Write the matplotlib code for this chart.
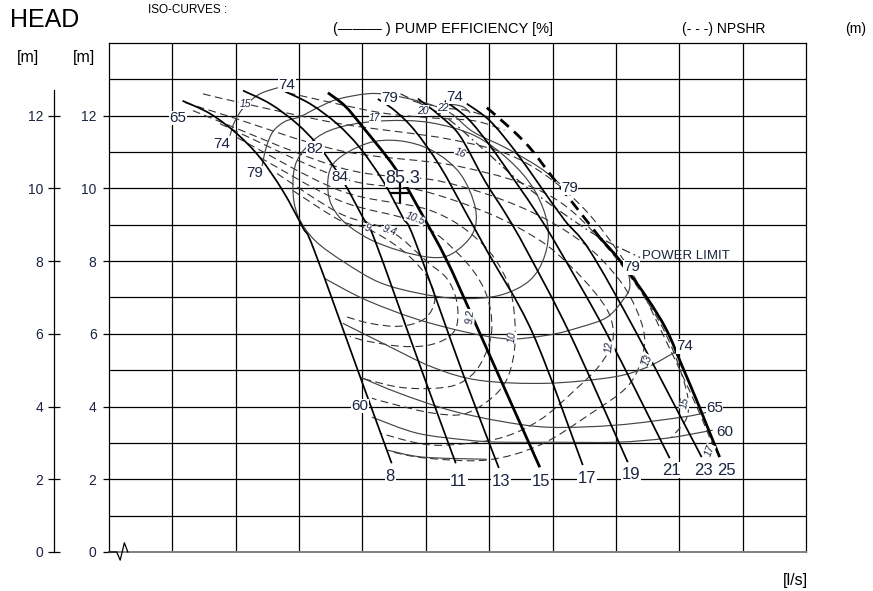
import matplotlib
matplotlib.use('Agg')
import matplotlib.pyplot as plt
from matplotlib.path import Path
from matplotlib.patches import PathPatch

plt.rcParams['font.family'] = ['Liberation Sans', 'DejaVu Sans']

NAVY = '#1b2440'

# blade angle curves: flow [l/s], head [m]
blade_labels = ['8', '11', '13', '15', '17', '19', '21', '23', '25']
blade_q = [
    [2080, 2300, 2510, 2690, 2870, 3030, 3120, 3500, 3730],
    [2557, 2770, 2983, 3164, 3345, 3503, 3598, 3976, 4236],
    [2872, 3085, 3298, 3479, 3661, 3818, 3913, 4292, 4576],
    [3227, 3361, 3495, 3755, 3953, 4165, 4370, 4899],
    [3621, 3755, 3913, 4110, 4307, 4481, 4844, 5238],
    [3937, 4110, 4268, 4465, 4639, 4796, 5135, 5593],
    [4150, 4331, 4505, 4702, 4899, 5057, 5427, 5924],
    [4323, 4505, 4702, 4899, 5096, 5293, 5664, 6176],
    [5372, 5530, 5743, 5900, 6019, 6137, 6239, 6318],
]
blade_h = [
    [12.41, 12.05, 11.50, 10.85, 9.94, 8.92, 8.29, 4.64, 2.44],
    [12.69, 12.33, 11.78, 11.12, 10.21, 9.20, 8.57, 4.91, 2.44],
    [12.69, 12.33, 11.78, 11.12, 10.21, 9.20, 8.57, 4.91, 2.31],
    [12.63, 12.27, 11.72, 10.57, 9.39, 8.02, 6.45, 2.33],
    [12.46, 12.14, 11.59, 10.62, 9.39, 8.29, 6.01, 2.39],
    [12.47, 12.00, 11.45, 10.21, 9.25, 8.29, 6.01, 2.47],
    [12.41, 11.92, 11.18, 10.21, 9.20, 8.29, 6.01, 2.58],
    [12.33, 11.86, 11.04, 10.08, 9.12, 8.29, 6.01, 2.61],
    [8.65, 8.02, 7.00, 6.10, 5.14, 4.17, 3.29, 2.61],
]
blade_label_q = [3720, 4260, 4590, 4910, 5270, 5620, 5940, 6190, 6370]
blade_label_h = [2.09, 1.95, 1.95, 1.95, 2.03, 2.14, 2.25, 2.25, 2.25]

# blade 25 above the power limit
b25_top_q = [4481, 4662, 4820, 5001, 5175, 5372]
b25_top_h = [12.22, 11.67, 11.12, 10.30, 9.53, 8.65]

# power limit
power_q = [3800, 4150, 4430, 4740, 5060, 5372, 5690]
power_h = [12.6, 11.97, 11.15, 10.19, 9.37, 8.65, 8.10]

# pump efficiency iso-curves
eff_curves = {
    'e84': ([3270, 3530, 3790, 4050, 4270, 4390, 4370, 4210, 4050, 3790, 3530, 3320, 3230, 3270],
            [10.68, 11.23, 11.31, 11.04, 10.41, 9.47, 8.76, 8.21, 8.10, 8.29, 8.65, 9.20, 9.86, 10.68]),
    'e82': ([2983, 3140, 3361, 3677, 4031, 4386, 4662, 4859, 4962, 4938, 4820, 4583, 4268, 3953,
             3637, 3361, 3124, 2990, 2951, 2983],
            [10.76, 11.40, 11.72, 11.86, 11.81, 11.45, 10.76, 9.94, 8.98, 8.15, 7.47, 7.06, 6.97, 7.11,
             7.41, 7.96, 8.57, 9.25, 9.99, 10.76]),
    'e79_up': ([2707, 2738, 2793, 2888, 3006, 3164, 3322, 3613, 3953, 4189, 4371, 4639, 4899, 5057],
               [10.60, 11.10, 11.56, 11.84, 11.97, 12.25, 12.47, 12.61, 12.39, 12.08, 11.56, 11.10, 10.57, 10.13]),
    'e79_low': ([5593, 5609, 5553, 5427, 5214, 4954, 4583, 4008, 3535, 3203],
                [7.80, 7.28, 6.92, 6.45, 6.18, 5.96, 5.88, 6.32, 6.92, 7.52]),
    'e74_up': ([2454, 2494, 2573, 2691, 2833],
               [11.45, 11.86, 12.27, 12.60, 12.77]),
    'e74_top': ([4110, 4190, 4290, 4350],
                [12.14, 12.30, 12.25, 12.08]),
    'e74_low': ([6003, 5948, 5743, 5475, 4954, 4426, 4055, 3661, 3345],
                [5.55, 5.46, 5.08, 4.81, 4.64, 4.72, 5.08, 5.74, 6.29]),
    'e65_low': ([6216, 6026, 5506, 4978, 4583, 4189, 3795, 3487],
                [3.84, 3.71, 3.49, 3.43, 3.60, 3.90, 4.36, 4.80]),
    'e60_low': ([6263, 5900, 5506, 4978, 4583, 4323, 3929, 3574],
                [3.35, 3.13, 3.02, 3.02, 3.02, 3.08, 3.27, 3.71]),
    'e_bot': ([3700, 3976, 4481],
              [2.80, 2.61, 2.55]),
}
eff_text = ['65', '74', '79', '74', '82', '84', '79', '74', '79', '79', '74', '65', '60', '60']
eff_text_q = [2044, 2391, 2651, 2904, 3124, 3322, 3716, 4229, 5135, 5624, 6042, 6279, 6358, 3479]
eff_text_h = [11.94, 11.23, 10.41, 12.85, 11.09, 10.30, 12.49, 12.52, 10.02, 7.83, 5.66, 3.95, 3.29, 4.01]
bep_q, bep_h = 3795, 9.86

# NPSHR iso-curves
npsh_curves = [
    ([2951, 3322, 3535, 3795, 3992, 4071, 3992, 3795, 3558, 3361],
     [9.94, 9.12, 8.90, 8.35, 7.66, 6.97, 6.42, 6.21, 6.29, 6.48]),
    ([2825, 3322, 3716, 4008, 4166, 4244, 4244, 4166, 4008, 3795, 3535, 3400],
     [10.41, 9.31, 8.84, 7.99, 7.52, 6.89, 6.23, 5.88, 5.68, 5.66, 5.80, 5.93]),
    ([2691, 3322, 3929, 4268, 4465, 4520, 4426, 4268, 4055, 3795, 3558, 3479],
     [10.85, 9.66, 9.06, 8.16, 7.19, 6.10, 5.14, 4.64, 4.50, 4.53, 4.72, 4.80]),
    ([2509, 3322, 4031, 4426, 4639, 4702, 4686, 4583, 4323, 4055, 3716, 3574],
     [11.40, 9.94, 9.40, 8.54, 7.47, 6.37, 5.27, 4.45, 3.82, 3.82, 4.09, 4.23]),
    ([2375, 3322, 3953, 4505, 4899, 5136, 5333, 5451, 5475, 5372, 5175, 4899, 4583, 4166, 3929, 3637],
     [11.78, 10.30, 9.95, 9.30, 8.57, 7.88, 7.14, 6.51, 5.82, 5.14, 4.45, 3.63, 3.13, 2.94, 3.00, 3.27]),
    ([2162, 3322, 4110, 4739, 5214, 5530, 5695, 5719, 5600, 5285, 4899, 4481, 4008, 3732],
     [12.14, 10.57, 10.20, 9.50, 8.57, 7.47, 6.37, 5.55, 4.59, 3.77, 2.94, 2.53, 2.58, 2.75]),
    ([2100, 2430, 3322, 4268, 4978, 5451, 5837, 6034, 6066, 5940],
     [12.36, 12.00, 11.04, 10.60, 9.80, 8.29, 6.37, 4.72, 3.77, 3.16]),
    ([2241, 2573, 3322, 4189, 4742, 5215, 5609, 5900, 6137, 6263],
     [12.60, 12.33, 11.78, 11.35, 10.79, 9.56, 7.77, 5.77, 4.00, 2.94]),
    ([2910, 3598, 4000, 4380, 4620],
     [12.63, 12.11, 11.95, 11.86, 11.60]),
    ([3900, 4134, 4331, 4500],
     [12.40, 12.22, 12.14, 11.95]),
]
npsh_text = ['9', '9.4', '10.5', '9.2', '10', '12', '13', '15', '17', '15', '16', '17', '20', '22']
npsh_text_q = [3542, 3716, 3913, 4347, 4678, 5451, 5750, 6042, 6239, 2573, 4268, 3598, 3976, 4134]
npsh_text_h = [8.90, 8.84, 9.17, 6.48, 5.90, 5.63, 5.27, 4.09, 2.80, 12.33, 10.96, 11.94, 12.14, 12.22]
npsh_text_rot = [-20, -20, -20, 85, 85, 85, 65, 80, 70, 0, -20, 0, 0, 0]

flow_ticks = [2000, 2500, 3000, 3500, 4000, 4500, 5000, 5500, 6000, 6500]
head_ticks = [0, 2, 4, 6, 8, 10, 12]


def smooth_line(ax, q, h, **kw):
    # draw a smooth curve through the read points (Catmull-Rom as cubic Bezier)
    pts = list(zip(q, h))
    n = len(pts)
    closed = pts[0] == pts[-1]
    verts = [pts[0]]
    codes = [Path.MOVETO]
    for i in range(n - 1):
        if i > 0:
            p0 = pts[i - 1]
        else:
            p0 = pts[-2] if closed else pts[0]
        p1, p2 = pts[i], pts[i + 1]
        if i + 2 < n:
            p3 = pts[i + 2]
        else:
            p3 = pts[1] if closed else pts[-1]
        c1 = (p1[0] + (p2[0] - p0[0]) / 6, p1[1] + (p2[1] - p0[1]) / 6)
        c2 = (p2[0] - (p3[0] - p1[0]) / 6, p2[1] - (p3[1] - p1[1]) / 6)
        verts += [c1, c2, p2]
        codes += [Path.CURVE4] * 3
    ax.add_patch(PathPatch(Path(verts, codes), fill=False, **kw))


fig = plt.figure(figsize=(8.73, 5.91), dpi=100)
ax = fig.add_axes([0.1249, 0.0660, 0.7984, 0.8613])
ax.set_xlim(1500, 7000)
ax.set_ylim(0, 14)

for q in flow_ticks:
    ax.axvline(q, color='black', lw=0.9, zorder=1)
for h in range(1, 14):
    ax.axhline(h, color='black', lw=0.9, zorder=1)

for q, h in npsh_curves:
    smooth_line(ax, q, h, edgecolor='#333333', lw=0.8, linestyle=(0, (7, 4)), zorder=2)

for name, (q, h) in eff_curves.items():
    smooth_line(ax, q, h, edgecolor='#444444', lw=0.85, zorder=3)

for i, lab in enumerate(blade_labels):
    thick = lab in ('15', '25')
    smooth_line(ax, blade_q[i], blade_h[i], edgecolor='black', lw=2.0 if thick else 1.25, zorder=4)
    ax.text(blade_label_q[i], blade_label_h[i], lab, color=NAVY, fontsize=12,
            ha='center', va='center', zorder=6,
            bbox=dict(facecolor='white', edgecolor='none', pad=0.5))

smooth_line(ax, b25_top_q, b25_top_h, edgecolor='black', lw=2.0, linestyle=(0, (4, 2.5)), zorder=4)
smooth_line(ax, power_q, power_h, edgecolor='#333333', lw=0.9, linestyle=(0, (7, 3, 1.5, 3)), zorder=3)
ax.text(5703, 8.15, 'POWER LIMIT', fontsize=9.5, color=NAVY, ha='left', va='center', zorder=6)

for t, q, h in zip(eff_text, eff_text_q, eff_text_h):
    ax.text(q, h, t, fontsize=11, color=NAVY, ha='center', va='center', zorder=6,
            bbox=dict(facecolor='white', edgecolor='none', pad=0.2))
ax.text(3818, 10.27, '85.3', fontsize=13, color=NAVY, ha='center', va='center', zorder=6,
        bbox=dict(facecolor='white', edgecolor='none', pad=0.1))
ax.plot([bep_q], [bep_h], marker='+', markersize=14, mew=1.6, color='black', zorder=7)

for t, q, h, r in zip(npsh_text, npsh_text_q, npsh_text_h, npsh_text_rot):
    ax.text(q, h, t, fontsize=7.5, style='italic', color=NAVY, ha='center', va='center',
            rotation=r, zorder=6, bbox=dict(facecolor='white', edgecolor='none', pad=0.1))

# axes frame and ticks
for s in ('top', 'left', 'right'):
    ax.spines[s].set_linewidth(0.9)
ax.spines['bottom'].set_color('#808080')
ax.spines['bottom'].set_linewidth(1.4)
ax.set_xticks(flow_ticks)
ax.set_xticklabels([str(q) for q in flow_ticks], fontsize=10, color=NAVY)
ax.tick_params(axis='x', length=0, pad=11)
ax.set_yticks(head_ticks)
ax.set_yticklabels([str(h) for h in head_ticks], fontsize=10, color=NAVY)
ax.tick_params(axis='y', length=4, width=0.9, pad=5)

# outer head axis
ax2 = ax.twinx()
ax2.set_ylim(0, 14)
ax2.yaxis.tick_left()
ax2.spines['left'].set_position(('outward', 39.5))
ax2.spines['left'].set_bounds(0, 12.7)
ax2.spines['left'].set_linewidth(0.9)
for s in ('top', 'right', 'bottom'):
    ax2.spines[s].set_visible(False)
ax2.set_yticks(head_ticks)
ax2.set_yticklabels([str(h) for h in head_ticks], fontsize=10, color=NAVY)
ax2.tick_params(axis='y', direction='inout', length=8, width=0.9, pad=4)
ax2.set_xticks([])

# axis break mark
ax.plot([0, 0.011, 0.016, 0.022, 0.027], [0, 0, -0.016, 0.018, 0], transform=ax.transAxes,
        color='black', lw=0.9, clip_on=False, zorder=8)

fig.text(0.0115, 0.966, 'HEAD', fontsize=18, ha='left', va='center')
fig.text(0.1695, 0.983, 'ISO-CURVES :', fontsize=8.5, ha='left', va='center')
fig.text(0.3814, 0.951, '(\u2014\u2014\u2014 ) PUMP EFFICIENCY [%]', fontsize=10.5, ha='left', va='center')
fig.text(0.7812, 0.951, '(- - -) NPSHR', fontsize=10, ha='left', va='center')
fig.text(0.968, 0.951, '(m)', fontsize=10, ha='left', va='center')
fig.text(0.032, 0.902, '[m]', fontsize=11.5, ha='center', va='center')
fig.text(0.0962, 0.902, '[m]', fontsize=11.5, ha='center', va='center')
fig.text(0.9107, 0.0186, '[l/s]', fontsize=11.5, ha='center', va='center')

fig.savefig('out.png', dpi=100)
